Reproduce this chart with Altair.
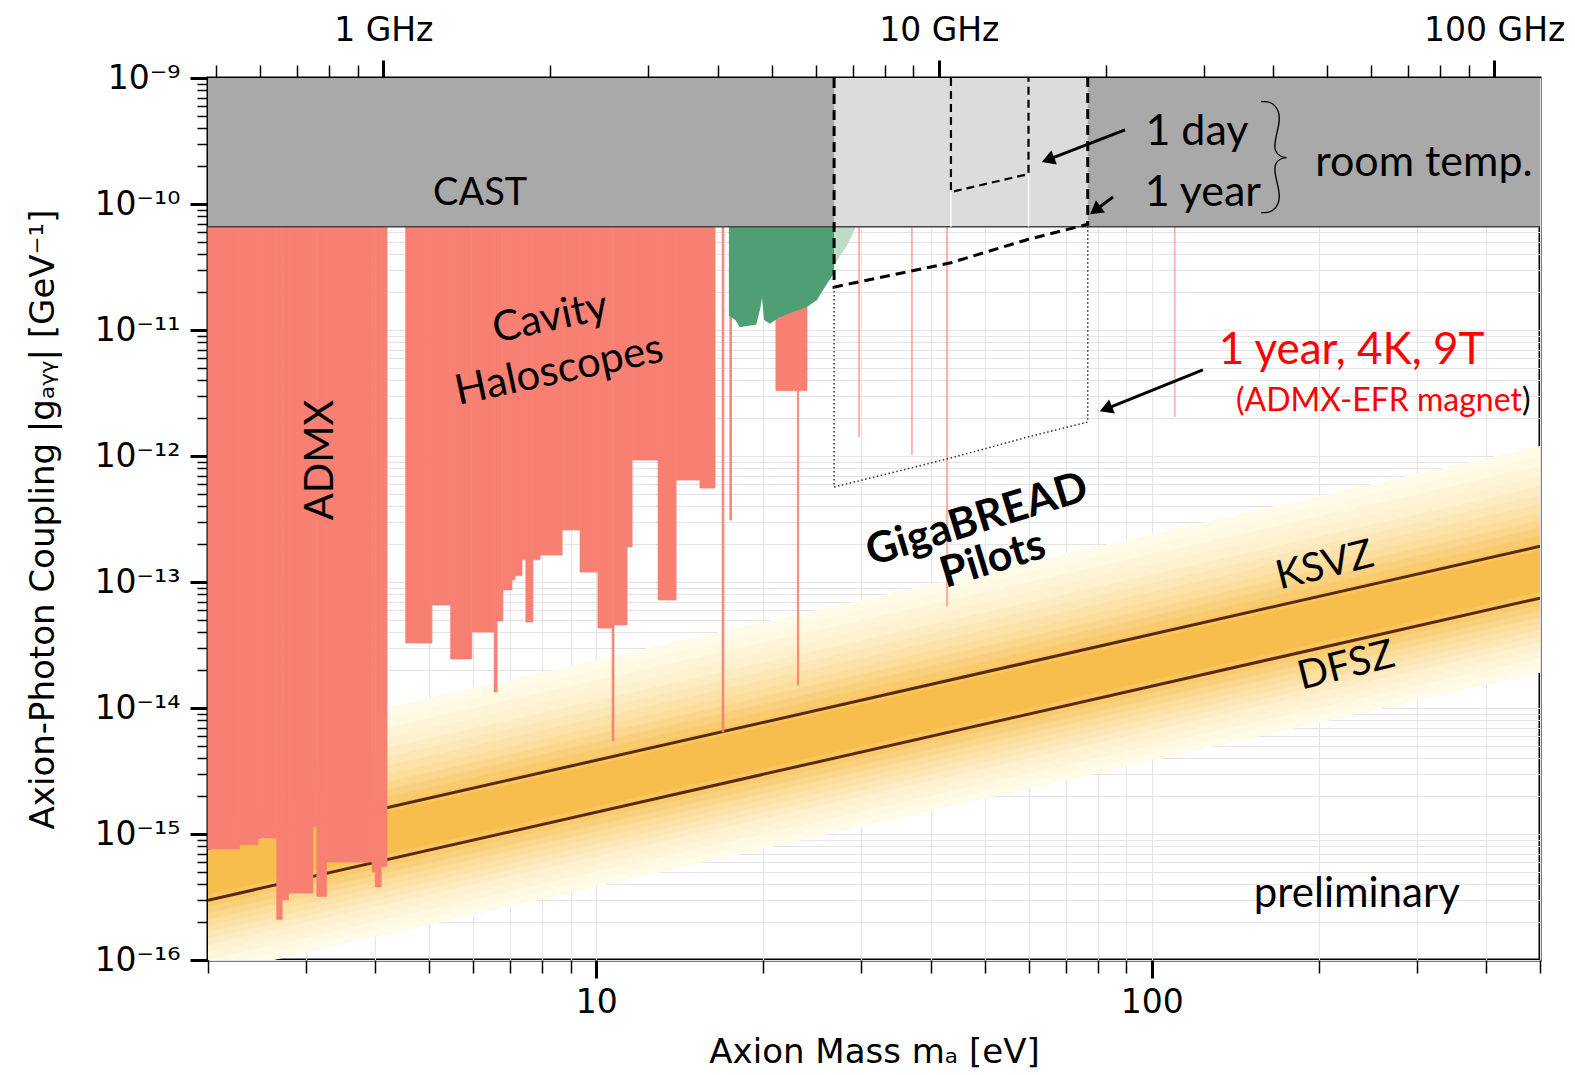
import altair as alt
import pandas as pd

# ---------------- data ----------------
M_MIN, M_MAX = 2.0, 500.0          # axion mass range [ueV]
G_MIN, G_MAX = 1e-16, 1e-9         # coupling range [GeV^-1]
UEV_PER_GHZ = 4.1357               # h * 1 GHz in ueV
CAST_G = 6.6e-11

# haloscope exclusion steps (mass start, mass end, lower coupling edge)
RED_M0 = [2.00, 2.28, 2.46, 2.66, 2.72, 2.79, 3.09, 3.14, 3.27, 3.95, 4.00, 4.10,
          4.54, 5.06, 5.47, 5.97, 6.55, 6.63, 6.79, 7.05, 7.14, 7.35, 7.47, 7.69,
          7.92, 8.68, 9.35, 10.07, 10.68, 10.76, 11.36, 11.60, 12.92, 13.92, 15.37,
          16.85, 17.40, 21.06, 23.02]
RED_M1 = [2.28, 2.46, 2.66, 2.72, 2.79, 3.09, 3.14, 3.27, 3.95, 4.00, 4.10, 4.20,
          5.06, 5.47, 5.97, 6.55, 6.63, 6.79, 7.05, 7.14, 7.35, 7.47, 7.69, 7.92,
          8.68, 9.35, 10.07, 10.68, 10.76, 11.36, 11.60, 12.92, 13.92, 15.37, 16.36,
          16.97, 17.52, 23.95, 23.14]
RED_G = [7.6e-16, 8.2e-16, 9.3e-16, 2.1e-16, 3.0e-16, 3.4e-16, 1.14e-15, 3.2e-16, 6.0e-16,
         5.0e-16, 3.8e-16, 5.5e-16,
         3.28e-14, 6.57e-14, 2.45e-14, 4.01e-14, 1.34e-14, 4.9e-14, 8.65e-14, 1.04e-13,
         1.12e-13, 1.5e-13, 4.82e-14, 1.5e-13, 1.64e-13, 2.59e-13, 1.2e-13, 4.31e-14,
         5.5e-15, 4.56e-14, 1.9e-13, 9.3e-13, 7.2e-14, 6.45e-13, 5.57e-13,
         6.45e-15, 3.1e-13, 3.3e-12, 1.52e-14]

# faint narrow exclusions
FAINT_M0 = [29.6, 36.85, 42.6, 109.6]
FAINT_M1 = [29.85, 37.15, 43.0, 110.4]
FAINT_G = [1.42e-12, 1.02e-12, 6.45e-14, 2.04e-12]

# green exclusion (lower edge)
GREEN_M = [17.33, 17.8, 18.14, 18.8, 19.4, 19.75, 19.88, 20.05, 20.54, 21.3, 22.3,
           23.95, 24.96, 25.6, 26.8]
GREEN_G = [1.3e-11, 1.2e-11, 1.05e-11, 1.08e-11, 1.1e-11, 1.5e-11, 1.8e-11, 1.2e-11,
           1.12e-11, 1.25e-11, 1.36e-11, 1.52e-11, 1.73e-11, 2.08e-11, 2.83e-11]
LGREEN_M = [26.8, 27.5, 28.3, 29.2]
LGREEN_G = [3.2e-11, 3.9e-11, 4.7e-11, 6.3e-11]

# QCD axion models
KSVZ_M, KSVZ_G = [2.0, 500.0], [7.7e-16, 1.92e-13]
DFSZ_M, DFSZ_G = [2.0, 500.0], [2.98e-16, 7.45e-14]
BAND_M, BAND_CENTER_G = [2.0, 500.0], [4.8e-16, 1.2e-13]
BAND_UP = [1.00, 0.92, 0.84, 0.76, 0.68, 0.61, 0.54, 0.47, 0.41, 0.35, 0.29, 0.23, 0.17]
BAND_DOWN = [0.80, 0.74, 0.68, 0.62, 0.56, 0.51, 0.46, 0.41, 0.36, 0.31, 0.26, 0.21, 0.16]

# GigaBREAD projections
GB_M0, GB_M1 = 26.8, 76.7
YEAR_M = [26.8, 26.8, 43.5, 60.0, 76.7, 76.7]
YEAR_G = [1e-9, 2.19e-11, 3.42e-11, 5.25e-11, 6.9e-11, 1e-9]
DAY_M = [43.5, 43.5, 60.0, 60.0]
DAY_G = [1e-9, 1.245e-10, 1.73e-10, 1e-9]
COLD_M = [26.8, 26.8, 43.5, 60.0, 76.7, 76.7]
COLD_G = [2.19e-11, 5.67e-13, 9.64e-13, 1.42e-12, 1.86e-12, 6.9e-11]
WHITE_M = [43.5, 60.0]
WHITE_G0 = [1.245e-10, 1.73e-10]

# labels
TXT = ["CAST", "ADMX", "Cavity", "Haloscopes", "KSVZ", "DFSZ", "1 day", "1 year",
       "room temp.", "preliminary"]
TXT_M = [6.18, 3.19, 8.26, 8.57, 205, 224, 120.6, 123.6, 309, 234]
TXT_G = [1.2e-10, 9.3e-13, 1.25e-11, 4.8e-12, 1.34e-13, 2.15e-14, 3.73e-10, 1.22e-10,
         2.11e-10, 3.34e-16]
TXT_ANG = [0, 270, 348, 348, 346, 346, 0, 0, 0, 0]
TXT_SIZE = [38, 40, 42, 42, 40, 40, 43, 43, 43, 42]

BOLD_TXT = ["GigaBREAD", "Pilots"]
BOLD_M = [48.5, 51.8]
BOLD_G = [3.1e-13, 1.5e-13]

RED_TXT_M, RED_TXT_G = 229, 6.8e-12
EFR_M, EFR_G = 464, 2.73e-12
BRACE_M, BRACE_G = 166.0, 2.25e-10

ARROW_M0 = [89.5, 85.2, 123.6]
ARROW_G0 = [3.87e-10, 1.14e-10, 4.82e-12]
ARROW_M1 = [65.6, 79.7, 83.4]
ARROW_G1 = [2.28e-10, 9.12e-11, 2.4e-12]
ARROW_ANG = [249, 233, 248]

X_TICKS = [2, 3, 4, 5, 6, 7, 8, 9, 10, 20, 30, 40, 50, 60, 70, 80, 90, 100, 200, 300, 400, 500]
Y_EXP = list(range(-16, -8))
F_TICKS = [0.5, 0.6, 0.7, 0.8, 0.9, 1, 2, 3, 4, 5, 6, 7, 8, 9, 10, 20, 30, 40, 50, 60,
           70, 80, 90, 100]

# ---------------- styling ----------------
RED = "#f88072"
GREEN = "#4f9f74"
LGREEN = "#bcdcc9"
LINE = "#5b2a0e"
FONT = "Lato"
AXFONT = "DejaVu Sans"
PALE = (255, 251, 232)
DEEP = (247, 190, 78)


def band_color(i, n):
    t = (i / (n - 1)) ** 1.3
    c = [round(p + (d - p) * t) for p, d in zip(PALE, DEEP)]
    return "#%02x%02x%02x" % tuple(c)


y_ticks = []
for e in Y_EXP[:-1]:
    for k in range(1, 10):
        y_ticks.append(float(f"{k}e{e}"))
y_ticks.append(1e-9)

SUP = {"-": "\u207b", "0": "\u2070", "1": "\u00b9", "2": "\u00b2", "3": "\u00b3",
       "4": "\u2074", "5": "\u2075", "6": "\u2076", "7": "\u2077", "8": "\u2078", "9": "\u2079"}
EXPO = "round(log(datum.value)/LN10)"
DEC = f"abs(log(datum.value)/LN10 - {EXPO}) < 0.01"
chain = "".join(f"{EXPO} == {e} ? '10{''.join(SUP[c] for c in str(e))}' : " for e in Y_EXP) + "''"
Y_LABEL = f"{DEC} ? ({chain}) : ''"

XS = alt.Scale(type="log", domain=[M_MIN, M_MAX], nice=False)
YS = alt.Scale(type="log", domain=[G_MIN, G_MAX], nice=False)

AX_X = alt.Axis(values=X_TICKS, format="d",
                labelExpr="datum.value == 10 || datum.value == 100 ? datum.label : ''",
                tickSize={"condition": {"test": "datum.value == 10 || datum.value == 100", "value": 18}, "value": 13},
                tickWidth={"condition": {"test": "datum.value == 10 || datum.value == 100", "value": 3}, "value": 1.5},
                labelPadding=8, titlePadding=16, labelOverlap=False, labelFlush=False,
                grid=True, domain=False)
AX_Y = alt.Axis(values=y_ticks, labelExpr=Y_LABEL,
                tickSize={"condition": {"test": DEC, "value": 18}, "value": 11},
                tickWidth={"condition": {"test": DEC, "value": 3}, "value": 1.5},
                labelPadding=10, titlePadding=34, labelOverlap=False, labelFlush=False,
                grid=True, domain=False)
AX_TOP = alt.Axis(orient="top", values=F_TICKS, title=None,
                  labelExpr="datum.value == 1 ? '1 GHz' : datum.value == 10 ? '10 GHz' : datum.value == 100 ? '100 GHz' : ''",
                  tickSize={"condition": {"test": "datum.value == 1 || datum.value == 10 || datum.value == 100", "value": 18}, "value": 13},
                  tickWidth={"condition": {"test": "datum.value == 1 || datum.value == 10 || datum.value == 100", "value": 3}, "value": 1.5},
                  labelPadding=13, labelOverlap=False, labelFlush=False, grid=False, domain=False)

X_TITLE = "Axion Mass m\u2090 [eV]"
Y_TITLE = "Axion-Photon Coupling |g\u2090\u1d67\u1d67| [GeV\u207b\u00b9]"


def X(f):
    return alt.X(f"{f}:Q", scale=XS, axis=AX_X, title=X_TITLE)


def Y(f):
    return alt.Y(f"{f}:Q", scale=YS, axis=AX_Y, title=Y_TITLE)


layers = []

# QCD band
nb = len(BAND_UP)
for i, (up, dn) in enumerate(zip(BAND_UP, BAND_DOWN)):
    df = pd.DataFrame({"m": BAND_M,
                       "lo": [g * 10 ** (-dn) for g in BAND_CENTER_G],
                       "hi": [g * 10 ** up for g in BAND_CENTER_G]})
    layers.append(alt.Chart(df).mark_area(color=band_color(i, nb), clip=True).encode(
        x=X("m"), y=Y("lo"), y2="hi"))

for mm, gg in [(KSVZ_M, KSVZ_G), (DFSZ_M, DFSZ_G)]:
    df = pd.DataFrame({"m": mm, "g": gg})
    layers.append(alt.Chart(df).mark_line(color=LINE, strokeWidth=3, clip=True).encode(x=X("m"), y=Y("g")))

# exclusions
red_df = pd.DataFrame({"m0": RED_M0, "m1": RED_M1, "g": RED_G, "top": CAST_G})
layers.append(alt.Chart(red_df).mark_rect(color=RED, stroke=RED, strokeWidth=0.8).encode(
    x=X("m0"), x2="m1", y=Y("g"), y2="top"))
faint_df = pd.DataFrame({"m0": FAINT_M0, "m1": FAINT_M1, "g": FAINT_G, "top": CAST_G})
layers.append(alt.Chart(faint_df).mark_rect(color=RED, opacity=0.6).encode(x=X("m0"), x2="m1", y=Y("g"), y2="top"))
gdf = pd.DataFrame({"m": GREEN_M, "g": GREEN_G, "top": CAST_G})
layers.append(alt.Chart(gdf).mark_area(color=GREEN).encode(x=X("m"), y=Y("g"), y2="top"))
lgdf = pd.DataFrame({"m": LGREEN_M, "g": LGREEN_G, "top": CAST_G})
layers.append(alt.Chart(lgdf).mark_area(color=LGREEN).encode(x=X("m"), y=Y("g"), y2="top"))

# CAST and room-temperature region
cast_df = pd.DataFrame({"m0": [M_MIN], "m1": [M_MAX], "g0": [CAST_G], "g1": [G_MAX]})
layers.append(alt.Chart(cast_df).mark_rect(color="#a9a9a9").encode(x=X("m0"), x2="m1", y=Y("g0"), y2="g1"))
gb_df = pd.DataFrame({"m0": [GB_M0], "m1": [GB_M1], "g0": [CAST_G], "g1": [G_MAX]})
layers.append(alt.Chart(gb_df).mark_rect(color="#dcdcdc").encode(x=X("m0"), x2="m1", y=Y("g0"), y2="g1"))
layers.append(alt.Chart(cast_df).mark_rule(color="#444444", strokeWidth=1.5).encode(x=X("m0"), x2="m1", y=Y("g0")))
wdf = pd.DataFrame({"m": WHITE_M, "g0": WHITE_G0, "g1": CAST_G})
layers.append(alt.Chart(wdf).mark_rule(color="white", strokeWidth=1.5).encode(x=X("m"), y=Y("g0"), y2="g1"))

# GigaBREAD curves
for mm, gg, dash, w, col in [(YEAR_M, YEAR_G, [10, 6], 3, "black"),
                             (DAY_M, DAY_G, [8, 5], 2.2, "black"),
                             (COLD_M, COLD_G, [1.5, 2.5], 1.5, "#333333")]:
    df = pd.DataFrame({"m": mm, "g": gg, "i": list(range(len(mm)))})
    layers.append(alt.Chart(df).mark_line(color=col, strokeWidth=w, strokeDash=dash).encode(
        x=X("m"), y=Y("g"), order="i:Q"))

# arrows
adf = pd.DataFrame({"m0": ARROW_M0, "g0": ARROW_G0, "m1": ARROW_M1, "g1": ARROW_G1, "ang": ARROW_ANG})
layers.append(alt.Chart(adf).mark_rule(color="black", strokeWidth=3).encode(x=X("m0"), x2="m1", y=Y("g0"), y2="g1"))
layers.append(alt.Chart(adf).mark_point(shape="triangle", filled=True, color="black", size=230, opacity=1).encode(
    x=X("m1"), y=Y("g1"), angle=alt.Angle("ang:Q", scale=None)))

# texts
tdf = pd.DataFrame({"t": TXT, "m": TXT_M, "g": TXT_G, "a": TXT_ANG, "s": TXT_SIZE})
layers.append(alt.Chart(tdf).mark_text(font=FONT, color="black", baseline="middle", align="center").encode(
    x=X("m"), y=Y("g"), text="t:N", angle=alt.Angle("a:Q", scale=None), size=alt.Size("s:Q", scale=None)))
bdf = pd.DataFrame({"t": BOLD_TXT, "m": BOLD_M, "g": BOLD_G})
layers.append(alt.Chart(bdf).mark_text(font=FONT, fontWeight="bold", fontSize=43, angle=343, color="black",
                                       baseline="middle", align="center").encode(x=X("m"), y=Y("g"), text="t:N"))
rdf = pd.DataFrame({"t": ["1 year, 4K, 9T"], "m": [RED_TXT_M], "g": [RED_TXT_G]})
layers.append(alt.Chart(rdf).mark_text(font=FONT, fontSize=44, color="#ff0000", baseline="middle",
                                       align="center").encode(x=X("m"), y=Y("g"), text="t:N"))
edf = pd.DataFrame({"t": ["(ADMX-EFR magnet"], "m": [EFR_M], "g": [EFR_G]})
layers.append(alt.Chart(edf).mark_text(font=FONT, fontSize=32, color="#ff0000", baseline="middle",
                                       align="right").encode(x=X("m"), y=Y("g"), text="t:N"))
pdf_ = pd.DataFrame({"t": [")"], "m": [EFR_M], "g": [EFR_G]})
layers.append(alt.Chart(pdf_).mark_text(font=FONT, fontSize=32, color="black", baseline="middle",
                                        align="left").encode(x=X("m"), y=Y("g"), text="t:N"))
brdf = pd.DataFrame({"t": ["}"], "m": [BRACE_M], "g": [BRACE_G]})
layers.append(alt.Chart(brdf).mark_text(font=FONT, fontSize=128, fontWeight=200, color="black",
                                        baseline="middle", align="center").encode(x=X("m"), y=Y("g"), text="t:N"))

main = alt.layer(*layers)

top_df = pd.DataFrame({"f": [M_MIN / UEV_PER_GHZ, M_MAX / UEV_PER_GHZ]})
top = alt.Chart(top_df).mark_point(opacity=0).encode(
    x=alt.X("f:Q", scale=alt.Scale(type="log", domain=[M_MIN / UEV_PER_GHZ, M_MAX / UEV_PER_GHZ], nice=False),
            axis=AX_TOP))

chart = alt.layer(main, top).resolve_scale(x="independent").properties(
    width=1332, height=882,
    autosize=alt.AutoSizeParams(type="none"),
    padding={"left": 208, "top": 78, "right": 35, "bottom": 115},
).configure_view(stroke="black", strokeWidth=3).configure_axis(
    labelFont=AXFONT, labelFontSize=33, labelColor="black",
    titleFont=AXFONT, titleFontSize=34, titleFontWeight="normal", titleColor="black",
    tickColor="black", gridColor="#e4e4e4", gridWidth=1,
)

chart.save("out.html", embed_options={"renderer": "svg", "actions": False})
